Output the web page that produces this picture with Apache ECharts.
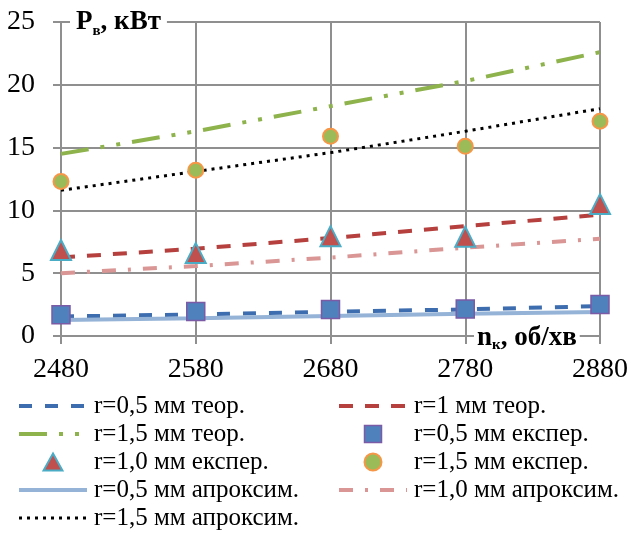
<!DOCTYPE html>
<html>
<head>
<meta charset="utf-8">
<script src="https://cdn.jsdelivr.net/npm/echarts@6/dist/echarts.min.js"></script>
<style>
html,body{margin:0;padding:0;background:#fff;}
#chart{width:632px;height:534px;}
</style>
</head>
<body>
<div id="chart"></div>
<script>
// ---- data ----
const categories = ['2480', '2580', '2680', '2780', '2880'];
const yTicks = [0, 5, 10, 15, 20, 25];

const r05Theor = [1.55, 1.72, 1.92, 2.12, 2.38];
const r10Theor = [6.25, 6.95, 7.8, 8.75, 9.65];
const r15Theor = [14.5, 16.3, 18.3, 20.3, 22.6];

const r05Exp = [1.7, 1.95, 2.1, 2.15, 2.5];
const r10Exp = [6.85, 6.6, 7.95, 7.9, 10.5];
const r15Exp = [12.3, 13.2, 15.9, 15.1, 17.1];

const r05Approx = [1.27, 1.42, 1.6, 1.78, 1.92];
const r10Approx = [5.0, 5.57, 6.24, 7.03, 7.75];
const r15Approx = [11.6, 13.1, 14.6, 16.3, 18.1];

const names = {
  t05: 'r=0,5 мм теор.', t10: 'r=1 мм теор.', t15: 'r=1,5 мм теор.',
  e05: 'r=0,5 мм експер.', e10: 'r=1,0 мм експер.', e15: 'r=1,5 мм експер.',
  a05: 'r=0,5 мм апроксим.', a10: 'r=1,0 мм апроксим.', a15: 'r=1,5 мм апроксим.'
};

const FONT = '"Liberation Serif", "Times New Roman", serif';
const GRID = '#8f8f8f';

// style table (not data)
const styles = {};
styles[names.t05] = { kind: 'line', color: '#3D6DAE', type: [13, 13], width: 4 };
styles[names.t10] = { kind: 'line', color: '#B5403D', type: [14, 12], width: 4 };
styles[names.t15] = { kind: 'line', color: '#8EB34D', type: [28, 12, 4, 12, 4, 12], width: 4 };
styles[names.a05] = { kind: 'line', color: '#95B3D7', type: 'solid', width: 4 };
styles[names.a10] = { kind: 'line', color: '#D99694', type: [14, 12, 3, 12], width: 4 };
styles[names.a15] = { kind: 'line', color: '#000000', type: [3, 5], width: 3 };
styles[names.e05] = { kind: 'scatter', symbol: 'rect', icon: 'path://M0,0L10,0L10,10L0,10Z', size: 18, fill: '#4F81BD', border: '#7B5AA6', bw: 1.5 };
styles[names.e10] = { kind: 'scatter', symbol: 'triangle', icon: 'path://M5,0L10,9L0,9Z', size: 20, fill: '#C0504D', border: '#4BACC6', bw: 2 };
styles[names.e15] = { kind: 'scatter', symbol: 'circle', icon: 'path://M0,7A7,7 0 1,0 14,7A7,7 0 1,0 0,7Z', size: 15, fill: '#9BBB59', border: '#F79646', bw: 2 };

function makeSeries(name, data) {
  const s = styles[name];
  if (s.kind === 'line') {
    return {
      name, type: 'line', data, symbol: 'none', showSymbol: false,
      lineStyle: { color: s.color, type: s.type, width: s.width, cap: 'butt' },
      itemStyle: { color: 'rgba(0,0,0,0)', borderWidth: 0 },
      emphasis: { disabled: true }, animation: false, z: 2
    };
  }
  return {
    name, type: 'scatter', data, symbol: s.symbol, symbolSize: s.size,
    itemStyle: { color: s.fill, borderColor: s.border, borderWidth: s.bw, opacity: 1 },
    emphasis: { disabled: true }, animation: false, z: 5
  };
}

function legendItems(list) {
  return list.map(n => {
    const s = styles[n];
    if (s.kind === 'line') {
      return { name: n, lineStyle: { width: s.width, type: s.type, color: s.color } };
    }
    return { name: n, icon: s.icon, itemStyle: { color: s.fill, borderColor: s.border, borderWidth: s.bw } };
  });
}

const chart = echarts.init(document.getElementById('chart'), null, { renderer: 'canvas' });

const legendCommon = {
  orient: 'vertical', itemWidth: 68, itemHeight: 17, itemGap: 0, padding: 0,
  height: 141, selectedMode: false, symbolKeepAspect: true,
  textStyle: { fontFamily: FONT, fontSize: 25, color: '#000', lineHeight: 28, padding: [0, 0, 0, 2] }
};

chart.setOption({
  animation: false,
  backgroundColor: '#fff',
  grid: { left: 61, right: 32, top: 22, bottom: 198, outerBoundsMode: 'none', containLabel: false },
  xAxis: {
    type: 'category', data: categories, boundaryGap: false,
    axisLine: { show: true, lineStyle: { color: GRID, width: 2 } },
    axisTick: { show: true, length: 8, inside: false, lineStyle: { color: GRID, width: 2 } },
    splitLine: { show: true, lineStyle: { color: GRID, width: 2 } },
    axisLabel: { fontFamily: FONT, fontSize: 28, color: '#000', margin: 20 }
  },
  yAxis: {
    type: 'value', min: yTicks[0], max: yTicks[yTicks.length - 1], interval: 5,
    axisLine: { show: true, lineStyle: { color: GRID, width: 2 } },
    axisTick: { show: true, length: 8, lineStyle: { color: GRID, width: 2 } },
    splitLine: { show: true, lineStyle: { color: GRID, width: 2 } },
    axisLabel: { fontFamily: FONT, fontSize: 28, color: '#000', margin: 26 }
  },
  legend: [
    Object.assign({}, legendCommon, { left: 17, top: 392, data: legendItems([names.t05, names.t15, names.e10, names.a05, names.a15]) }),
    Object.assign({}, legendCommon, { left: 337, top: 392, data: legendItems([names.t10, names.e05, names.e15, names.a10]) })
  ],
  graphic: [
    {
      type: 'text', left: 70, top: 5, z: 100,
      style: {
        text: '{a|P}{s|в}{a|, кВт}',
        backgroundColor: '#fff', padding: [0, 6, 0, 6],
        rich: {
          a: { fontFamily: FONT, fontSize: 27, fontWeight: 'bold', fill: '#000', lineHeight: 34 },
          s: { fontFamily: FONT, fontSize: 15, fontWeight: 'bold', fill: '#000', lineHeight: 14, verticalAlign: 'bottom' }
        }
      }
    },
    {
      type: 'text', left: 474, top: 323, z: 100,
      style: {
        text: '{a|n}{s|к}{a|, об/хв}',
        backgroundColor: '#fff', padding: [0, 3, 0, 3],
        rich: {
          a: { fontFamily: FONT, fontSize: 27, fontWeight: 'bold', fill: '#000', lineHeight: 30 },
          s: { fontFamily: FONT, fontSize: 15, fontWeight: 'bold', fill: '#000', lineHeight: 12, verticalAlign: 'bottom' }
        }
      }
    }
  ],
  series: [
    makeSeries(names.t05, r05Theor),
    makeSeries(names.t10, r10Theor),
    makeSeries(names.t15, r15Theor),
    makeSeries(names.e05, r05Exp),
    makeSeries(names.e10, r10Exp),
    makeSeries(names.e15, r15Exp),
    makeSeries(names.a05, r05Approx),
    makeSeries(names.a10, r10Approx),
    makeSeries(names.a15, r15Approx)
  ]
});
</script>
</body>
</html>
